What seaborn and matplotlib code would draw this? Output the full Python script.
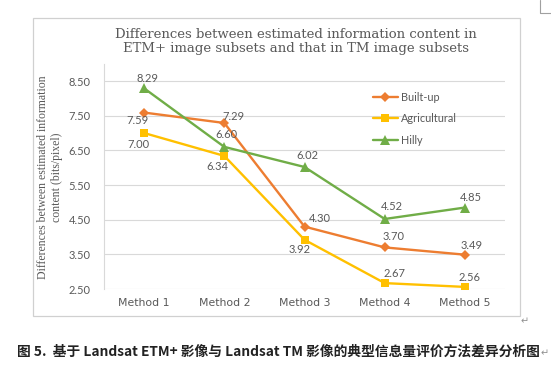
import matplotlib
matplotlib.use("Agg")
import matplotlib.pyplot as plt
import seaborn as sns
import pandas as pd
from matplotlib.lines import Line2D
from matplotlib.patches import Rectangle

# ---- data ----
methods = ["Method 1", "Method 2", "Method 3", "Method 4", "Method 5"]
builtup = [7.59, 7.29, 4.30, 3.70, 3.49]
agricultural = [7.00, 6.34, 3.92, 2.67, 2.56]
hilly = [8.29, 6.60, 6.02, 4.52, 4.85]
series_names = ["Built-up", "Agricultural", "Hilly"]
yticks = [2.50, 3.50, 4.50, 5.50, 6.50, 7.50, 8.50]
title = "Differences between estimated information content in\nETM+ image subsets and that in TM image subsets"
ylabel = "Differences between estimated information\ncontent (bits/pixel)"
caption = "图 5.  基于 Landsat ETM+ 影像与 Landsat TM 影像的典型信息量评价方法差异分析图"

# ---- style ----
colors = {"Built-up": "#ED7D31", "Agricultural": "#FFC000", "Hilly": "#70AD47"}
markers = {"Built-up": "D", "Agricultural": "s", "Hilly": "^"}
msizes = {"Built-up": 5, "Agricultural": 6, "Hilly": 6.5}
txt = "#595959"
grid = "#D9D9D9"
# label offsets in pixels (dx, dy) per series per point
offsets = {
    "Built-up": [(-7, -8), (9, 6), (15, 8), (9, 11), (7, 9)],
    "Agricultural": [(-6, -11), (-7, -11), (-5, -10), (10, 10), (5, 9)],
    "Hilly": [(3, 10), (2, 12), (3, 11), (7, 12), (6, 10)],
}

sns.set_theme(style="white")
plt.rcParams["font.family"] = ["Lato", "DejaVu Sans"]

rows = []
for name, vals in zip(series_names, [builtup, agricultural, hilly]):
    for m, v in zip(methods, vals):
        rows.append({"method": m, "value": v, "series": name})
df = pd.DataFrame(rows)

W, H = 551, 375
fig = plt.figure(figsize=(W / 100, H / 100), dpi=100)
fig.patch.set_facecolor("white")

# outer chart border
fig.add_artist(Rectangle((33 / W, 1 - 316 / H), (520 - 33) / W, (316 - 18) / H,
                         transform=fig.transFigure, fill=False, edgecolor="#D0D0D0", lw=0.9))

L, R, T, B = 104, 505, 63.7, 289
ax = fig.add_axes([L / W, 1 - B / H, (R - L) / W, (B - T) / H])

for name in series_names:
    sub = df[df.series == name]
    sns.lineplot(data=sub, x="method", y="value", ax=ax, color=colors[name],
                 marker=markers[name], markersize=msizes[name], markeredgewidth=0,
                 lw=1.7, label=name, sort=False)

ax.set_xlim(-0.5, 4.5)
ax.set_ylim(2.5, 9.0)
ax.set_yticks(yticks)
ax.set_yticklabels([f"{t:.2f}" for t in yticks])
ax.yaxis.grid(True, color=grid, lw=0.8)
ax.set_axisbelow(True)
for s in ["top", "right", "bottom"]:
    ax.spines[s].set_visible(False)
ax.spines["left"].set_color(grid)
ax.spines["left"].set_linewidth(0.8)
ax.tick_params(axis="both", length=0)
ax.tick_params(axis="y", pad=9.5, labelsize=8, labelcolor=txt)
ax.tick_params(axis="x", pad=6.5, labelcolor=txt)
for lab in ax.get_xticklabels():
    lab.set_fontfamily(["DejaVu Sans"])
    lab.set_fontsize(7.8)
ax.set_xlabel("")
ax.set_ylabel("")

# data labels
for name, vals in zip(series_names, [builtup, agricultural, hilly]):
    for i, v in enumerate(vals):
        dx, dy = offsets[name][i]
        ax.annotate(f"{v:.2f}", xy=(i, v), xytext=(dx, dy), textcoords="offset pixels",
                    ha="center", va="center", fontsize=8, color=txt)

# legend
leg = ax.legend(loc="upper left", bbox_to_anchor=(373 / W, 1 - 92 / H),
                bbox_transform=fig.transFigure, frameon=False, fontsize=7.8,
                handlelength=2.3, handletextpad=0.3, labelspacing=0.95,
                borderpad=0, borderaxespad=0)
for t in leg.get_texts():
    t.set_color(txt)

# title and y label
fig.text(296 / W, 1 - 41.5 / H, title, ha="center", va="center", fontsize=9.5,
         color=txt, family=["DejaVu Serif"], linespacing=1.15)
fig.text(50 / W, 1 - 177.5 / H, ylabel, ha="center", va="center", rotation=90,
         fontsize=8.5, color=txt, family=["Liberation Serif"], linespacing=1.2,
         multialignment="center")

# caption
cap = fig.text(17 / W, 1 - 352 / H, caption, ha="left", va="center", fontsize=9.9,
               fontweight="bold", color="#222222", family=["Noto Sans CJK SC", "DejaVu Sans"])
fig.canvas.draw()
bb = cap.get_window_extent()
fig.text(bb.x1 / W + 0.001, 1 - 353 / H, "↵", ha="left", va="center", fontsize=7,
         color="#909090", family=["DejaVu Sans"])
fig.text(521 / W, 1 - 321 / H, "↵", ha="left", va="center", fontsize=7,
         color="#909090", family=["DejaVu Sans"])
# corner mark at top right
fig.add_artist(Line2D([540 / W, 540 / W, 551 / W], [1.0, 1 - 13 / H, 1 - 13 / H],
                      transform=fig.transFigure, color="#A0A0A0", lw=0.8))

fig.savefig("out.png", dpi=100, facecolor="white")
